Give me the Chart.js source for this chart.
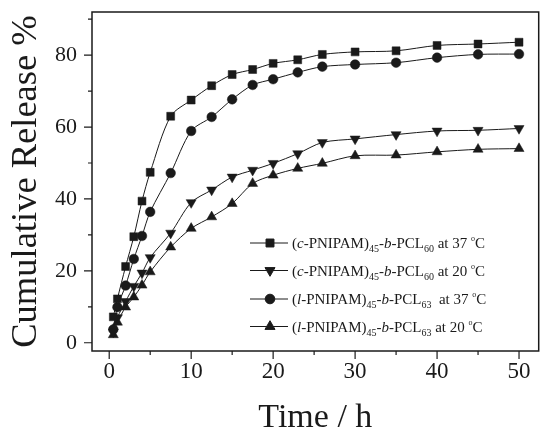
<!DOCTYPE html>
<html>
<head>
<meta charset="utf-8">
<script src="https://cdn.jsdelivr.net/npm/chart.js@4.4.0/dist/chart.umd.min.js"></script>
<style>
html, body { margin: 0; padding: 0; background: #fff; }
#wrap { width: 545px; height: 428px; }
</style>
</head>
<body>
<div id="wrap"><canvas id="releaseChart" width="545" height="428"></canvas></div>
<script>
// tempo di rilascio (h) e rilascio cumulativo (%)
const timeH = [0.5, 1, 2, 3, 4, 5, 7.5, 10, 12.5, 15, 17.5, 20, 23, 26, 30, 35, 40, 45, 50];
const cyc37 = [7.2, 12.2, 21.2, 29.5, 39.4, 47.4, 63.0, 67.5, 71.5, 74.6, 76.0, 77.7, 78.7, 80.2, 80.9, 81.2, 82.7, 83.1, 83.6];
const cyc20 = [3.0, 7.0, 11.5, 15.7, 19.4, 23.7, 30.5, 39.0, 42.5, 46.1, 48.0, 49.9, 52.6, 55.7, 56.7, 57.9, 58.9, 59.1, 59.6];
const lin37 = [3.7, 9.9, 15.9, 23.3, 29.7, 36.4, 47.2, 58.9, 62.8, 67.7, 71.7, 73.3, 75.2, 76.8, 77.4, 77.9, 79.3, 80.2, 80.3];
const lin20 = [2.2, 5.7, 9.9, 12.7, 16.0, 19.7, 26.6, 31.8, 35.0, 38.7, 44.3, 46.6, 48.5, 49.9, 52.0, 52.2, 53.1, 53.8, 54.0];

const xTicks = [0, 5, 10, 15, 20, 25, 30, 35, 40, 45, 50];
const yTicks = [0, 10, 20, 30, 40, 50, 60, 70, 80, 90];

// etichette legenda: [testo, stile]
const legendLabels = [
    [['(', ''], ['c', 'i'], ['-PNIPAM)', ''], ['45', 'sub'], ['-', ''], ['b', 'i'], ['-PCL', ''], ['60', 'sub'], [' at 37 ', ''], ['o', 'sup'], ['C', '']],
    [['(', ''], ['c', 'i'], ['-PNIPAM)', ''], ['45', 'sub'], ['-', ''], ['b', 'i'], ['-PCL', ''], ['60', 'sub'], [' at 20 ', ''], ['o', 'sup'], ['C', '']],
    [['(', ''], ['l', 'i'], ['-PNIPAM)', ''], ['45', 'sub'], ['-', ''], ['b', 'i'], ['-PCL', ''], ['63', 'sub'], ['  at 37 ', ''], ['o', 'sup'], ['C', '']],
    [['(', ''], ['l', 'i'], ['-PNIPAM)', ''], ['45', 'sub'], ['-', ''], ['b', 'i'], ['-PCL', ''], ['63', 'sub'], [' at 20 ', ''], ['o', 'sup'], ['C', '']],
];

const ink = '#1a1a1a';
const serif = '"Liberation Serif", "DejaVu Serif", serif';

function series(values, style, radius, rotation) {
    return {
        data: timeH.map((t, i) => ({ x: t, y: values[i] })),
        borderColor: ink,
        borderWidth: 1,
        backgroundColor: ink,
        pointBackgroundColor: ink,
        pointBorderColor: ink,
        pointBorderWidth: 0.5,
        pointStyle: style,
        pointRadius: radius,
        pointRotation: rotation || 0,
        tension: 0.3,
        fill: false,
    };
}

const datasets = [
    series(cyc37, 'rect', 5.6),
    series(cyc20, 'triangle', 5.8, 180),
    series(lin37, 'circle', 4.8),
    series(lin20, 'triangle', 5.8),
];

function drawRich(ctx, segs, x, y) {
    segs.forEach(([txt, kind]) => {
        let size = 15, dy = 0, style = '';
        if (kind === 'i') style = 'italic ';
        if (kind === 'sub') { size = 10; dy = 4; }
        if (kind === 'sup') { size = 8; dy = -7; }
        ctx.font = style + size + 'px ' + serif;
        ctx.fillText(txt, x, y + dy);
        x += ctx.measureText(txt).width;
    });
}

const framePlugin = {
    id: 'frame',
    afterDraw(chart) {
        const { ctx, chartArea: a, scales: { x, y } } = chart;
        ctx.save();
        ctx.strokeStyle = ink;
        ctx.lineWidth = 1.5;
        ctx.strokeRect(a.left, a.top, a.right - a.left, a.bottom - a.top);
        ctx.lineWidth = 1.2;
        ctx.beginPath();
        xTicks.forEach(v => {
            const px = x.getPixelForValue(v);
            const len = v % 10 === 0 ? 8 : 4;
            ctx.moveTo(px, a.bottom);
            ctx.lineTo(px, a.bottom + len);
        });
        yTicks.forEach(v => {
            const py = y.getPixelForValue(v);
            const len = v % 20 === 0 ? 8 : 4;
            ctx.moveTo(a.left, py);
            ctx.lineTo(a.left - len, py);
        });
        ctx.stroke();

        // legenda dentro il grafico
        const rowY = [243, 270.5, 299, 326.5];
        ctx.fillStyle = ink;
        ctx.textBaseline = 'alphabetic';
        datasets.forEach((ds, i) => {
            const yy = rowY[i];
            ctx.lineWidth = 1;
            ctx.beginPath();
            ctx.moveTo(250, yy);
            ctx.lineTo(288, yy);
            ctx.stroke();
            Chart.helpers.drawPoint(ctx, {
                pointStyle: ds.pointStyle,
                rotation: ds.pointRotation,
                radius: ds.pointRadius,
                borderWidth: 0.5,
            }, 270, yy);
            ctx.fillStyle = ink;
            drawRich(ctx, legendLabels[i], 292, yy + 5);
        });
        ctx.restore();
    }
};

const ctx = document.getElementById('releaseChart').getContext('2d');
const releaseChart = new Chart(ctx, {
    type: 'line',
    data: { datasets: datasets },
    options: {
        responsive: false,
        animation: false,
        layout: { padding: { top: 12, right: 4, left: 0, bottom: 0 } },
        plugins: { legend: { display: false }, tooltip: { enabled: false } },
        scales: {
            x: {
                type: 'linear',
                min: -2.1,
                max: 52.4,
                grid: { display: false, drawTicks: false },
                border: { display: false },
                afterBuildTicks: s => { s.ticks = xTicks.map(v => ({ value: v })); },
                afterFit: s => { s.height = 77; s.paddingLeft = 0; s.paddingRight = 0; },
                ticks: {
                    callback: v => (v % 10 === 0 ? v : ''),
                    font: { family: serif, size: 23 },
                    color: ink,
                    padding: 7,
                    maxRotation: 0,
                    autoSkip: false,
                },
                title: {
                    display: true,
                    text: 'Time / h',
                    font: { family: serif, size: 34 },
                    color: ink,
                    padding: { top: 0, bottom: -10 },
                },
            },
            y: {
                type: 'linear',
                min: -2.3,
                max: 92,
                grid: { display: false, drawTicks: false },
                border: { display: false },
                afterBuildTicks: s => { s.ticks = yTicks.map(v => ({ value: v })); },
                afterFit: s => { s.width = 92; s.paddingTop = 0; s.paddingBottom = 0; },
                ticks: {
                    callback: v => (v % 20 === 0 ? v : ''),
                    font: { family: serif, size: 22 },
                    color: ink,
                    padding: 15,
                    autoSkip: false,
                },
                title: {
                    display: true,
                    text: 'Cumulative Release %',
                    font: { family: serif, size: 36.5 },
                    color: ink,
                    padding: { top: 5, bottom: 0 },
                },
            },
        },
    },
    plugins: [framePlugin],
});
</script>
</body>
</html>
